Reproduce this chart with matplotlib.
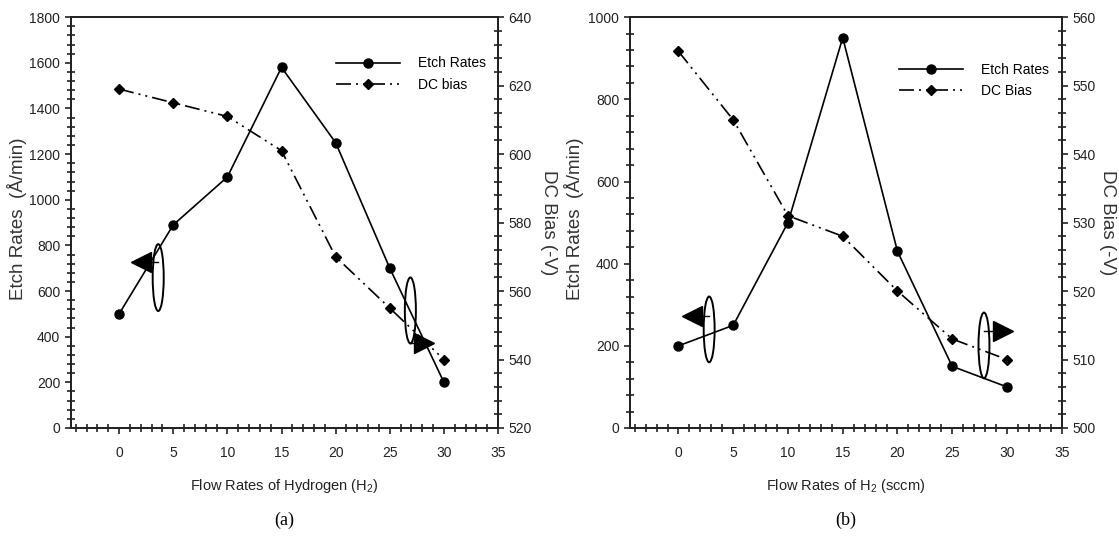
import matplotlib
matplotlib.use("Agg")
import matplotlib.pyplot as plt
from matplotlib.patches import Ellipse
from matplotlib.ticker import MultipleLocator

plt.rcParams['font.family'] = ['Liberation Sans', 'DejaVu Sans']
plt.rcParams['mathtext.fontset'] = 'custom'
plt.rcParams['mathtext.rm'] = 'Liberation Sans'

# ---- data ----
flow = [0, 5, 10, 15, 20, 25, 30]
etch_a = [500, 890, 1100, 1580, 1250, 700, 200]
bias_a = [619, 615, 611, 601, 570, 555, 540]
etch_b = [200, 250, 500, 950, 430, 150, 100]
bias_b = [555, 545, 531, 528, 520, 513, 510]

xticks = [0, 5, 10, 15, 20, 25, 30, 35]

fig = plt.figure(figsize=(11.19, 5.37), dpi=100)

DASH = (0, (9, 3, 1.2, 3, 1.2, 3))


def style_axes(ax, ax2, ylim, ymaj, ymin, y2lim, y2maj, y2min):
    ax.set_xlim(-4.47, 35)
    ax.set_ylim(*ylim)
    ax2.set_ylim(*y2lim)
    ax.set_xticks(xticks)
    ax.xaxis.set_minor_locator(MultipleLocator(1))
    ax.yaxis.set_major_locator(MultipleLocator(ymaj))
    ax.yaxis.set_minor_locator(MultipleLocator(ymin))
    ax2.yaxis.set_major_locator(MultipleLocator(y2maj))
    ax2.yaxis.set_minor_locator(MultipleLocator(y2min))
    for a in (ax, ax2):
        for s in a.spines.values():
            s.set_linewidth(1.3)
            s.set_color('#222222')
    ax.tick_params(axis='both', which='major', direction='out', length=4, width=1.2,
                   labelsize=10, pad=3.5, colors='#222222')
    ax.tick_params(axis='both', which='minor', direction='inout', length=5.5, width=1.2,
                   colors='#222222')
    ax.tick_params(axis='x', which='major', pad=9)
    ax2.tick_params(axis='y', which='major', direction='out', length=4, width=1.2,
                    labelsize=10, pad=3.5, colors='#222222')
    ax2.tick_params(axis='y', which='minor', direction='inout', length=5.5, width=1.2,
                    colors='#222222')


def panel(rect, etch, bias, ylim, ymaj, ymin, y2lim, y2maj, y2min, xlabel, bias_label,
          letter, annots, lab_x, legend_y):
    ax = fig.add_axes(rect)
    ax2 = ax.twinx()
    l1, = ax.plot(flow, etch, color='black', lw=1.2, marker='o', ms=6.5, label='Etch Rates')
    l2, = ax2.plot(flow, bias, color='black', lw=1.2, linestyle=DASH, marker='D', ms=5.5,
                   label=bias_label)
    style_axes(ax, ax2, ylim, ymaj, ymin, y2lim, y2maj, y2min)
    ax.set_xlabel(xlabel, fontsize=10.5, color='#222222')
    ax.xaxis.set_label_coords(0.5, -0.141)
    ax.xaxis.label.set_va('center')
    ax.set_ylabel('Etch Rates  (Å/min)', fontsize=13.5, color='#333333')
    ax.yaxis.set_label_coords(lab_x[0], 0.51)
    ax.yaxis.label.set_va('center')
    ax2.set_ylabel('DC Bias (-V)', fontsize=13.5, rotation=270, color='#333333')
    ax2.yaxis.set_label_coords(lab_x[1], 0.5)
    ax2.yaxis.label.set_va('center')
    ax.legend([l1, l2], ['Etch Rates', bias_label], loc='upper right',
              bbox_to_anchor=(1.0, legend_y), frameon=False, fontsize=10,
              handlelength=4.6, handletextpad=1.3, labelspacing=0.55)
    # annotation ellipses and arrowheads
    for (ex, ey, ew, eh, tx, ty, mk) in annots:
        ax.add_patch(Ellipse((ex, ey), ew, eh, fill=False, edgecolor='black', lw=1.4,
                             zorder=5))
        ax.plot([tx, ex], [ty, ty], color='black', lw=1.0, zorder=5)
        ax.plot([tx], [ty], marker=mk, color='black', ms=15, zorder=6, linestyle='none')
    ax.text(0.5, -0.226, letter, transform=ax.transAxes, ha='center', va='center',
            fontsize=13, family=['Liberation Serif', 'DejaVu Serif'])
    return ax, ax2


panel([0.0632, 0.203, 0.3819, 0.765], etch_a, bias_a, (0, 1800), 200, 40, (520, 640), 20, 4,
      'Flow Rates of Hydrogen (H$_\\mathregular{2}$)', 'DC bias', '(a)',
      [(3.61, 659, 1.02, 293, 2.04, 727, '<'),
       (26.9, 515, 1.02, 289, 28.2, 372, '>')],
      (-0.126, 1.117), 0.935)

panel([0.5626, 0.203, 0.3862, 0.765], etch_b, bias_b, (0, 1000), 200, 40, (500, 560), 10, 2,
      'Flow Rates of H$_\\mathregular{2}$ (sccm)', 'DC Bias', '(b)',
      [(2.8, 240, 1.0, 160, 1.24, 272, '<'),
       (27.9, 201, 1.0, 160, 29.6, 236, '>')],
      (-0.129, 1.105), 0.92)

fig.savefig('out.png', dpi=100)
